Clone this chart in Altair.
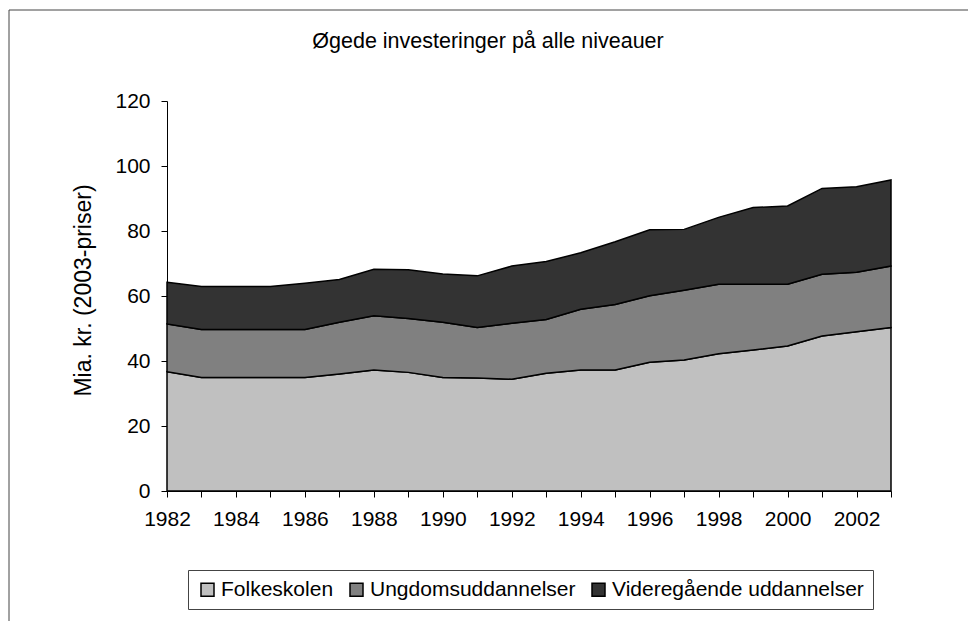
import altair as alt
import pandas as pd

years = list(range(1982, 2004))
folkeskolen = [36.7, 34.9, 34.9, 34.9, 34.9, 36.0, 37.2, 36.5, 34.9, 34.8, 34.4,
               36.2, 37.2, 37.2, 39.6, 40.3, 42.2, 43.4, 44.6, 47.7, 49.0, 50.3]
ungdom = [14.7, 14.8, 14.8, 14.8, 14.8, 15.9, 16.7, 16.6, 17.0, 15.5, 17.2,
          16.6, 18.7, 20.2, 20.5, 21.5, 21.4, 20.2, 19.0, 19.0, 18.3, 18.9]
videre = [12.8, 13.2, 13.2, 13.2, 14.2, 13.2, 14.3, 15.0, 14.9, 15.9, 17.6,
          17.8, 17.4, 19.3, 20.3, 18.7, 20.6, 23.6, 24.1, 26.4, 26.3, 26.5]
series = ["Folkeskolen", "Ungdomsuddannelser", "Videregående uddannelser"]
colors = ["#C0C0C0", "#808080", "#333333"]
y_ticks = [0, 20, 40, 60, 80, 100, 120]
title_text = "Øgede investeringer på alle niveauer"

rows = []
for idx, (name, vals) in enumerate(zip(series, [folkeskolen, ungdom, videre])):
    for yr, v in zip(years, vals):
        rows.append({"year": yr, "value": v, "serie": name, "idx": idx})
df = pd.DataFrame(rows)

FONT = "Liberation Sans"
W, H = 724, 390

area = alt.Chart(df).mark_area(stroke="black", strokeWidth=1.5, opacity=1).encode(
    x=alt.X("year:Q",
            scale=alt.Scale(domain=[1982, 2003], nice=False, zero=False),
            axis=alt.Axis(values=years, title=None, grid=False,
                          labelExpr="datum.value % 2 == 0 ? datum.value : ''",
                          labelFontSize=21, labelPadding=11, tickSize=6,
                          labelFlush=False, labelOverlap=False)),
    y=alt.Y("value:Q", stack="zero",
            scale=alt.Scale(domain=[0, 120], nice=False),
            axis=alt.Axis(values=y_ticks, title="Mia. kr. (2003-priser)", grid=False,
                          labelFontSize=21, labelPadding=11, tickSize=6,
                          titleFontSize=23, titleFontWeight="normal", titlePadding=19,
                          titleY=189)),
    color=alt.Color("serie:N",
                    scale=alt.Scale(domain=series, range=colors),
                    legend=alt.Legend(title=None, orient="none", legendX=21, legendY=469,
                                      direction="horizontal", symbolType="square",
                                      symbolSize=169, symbolStrokeColor="black",
                                      symbolStrokeWidth=1.5, symbolOpacity=1,
                                      labelFontSize=21, labelFont=FONT, labelColor="black",
                                      labelLimit=1000,
                                      labelOffset=3, columnPadding=12, padding=9,
                                      strokeColor="#444", fillColor="white")),
    order=alt.Order("idx:Q", sort="ascending"),
)

one = pd.DataFrame({"a": [0]})
frame_left = alt.Chart(one).mark_rule(color="#444", strokeWidth=1).encode(
    x=alt.value(-158), y=alt.value(-91), y2=alt.value(600))
frame_top = alt.Chart(one).mark_rule(color="#444", strokeWidth=1).encode(
    x=alt.value(-158), x2=alt.value(900), y=alt.value(-91))
title = alt.Chart(one).mark_text(font=FONT, fontSize=21.5, color="black",
                                 align="center", baseline="middle").encode(
    x=alt.value(321), y=alt.value(-59), text=alt.value(title_text))

chart = alt.layer(area, frame_left, frame_top, title).properties(
    width=W, height=H,
    background="white",
    autosize=alt.AutoSizeParams(type="none"),
    padding={"left": 159, "top": 93, "right": 77, "bottom": 130},
).configure_view(strokeWidth=0, stroke="transparent").configure_axis(
    labelFont=FONT, titleFont=FONT, labelColor="black", titleColor="black",
    domainColor="black", tickColor="black", domainWidth=1, tickWidth=1,
)

chart.save("out.html", embed_options={"renderer": "svg", "actions": False})
